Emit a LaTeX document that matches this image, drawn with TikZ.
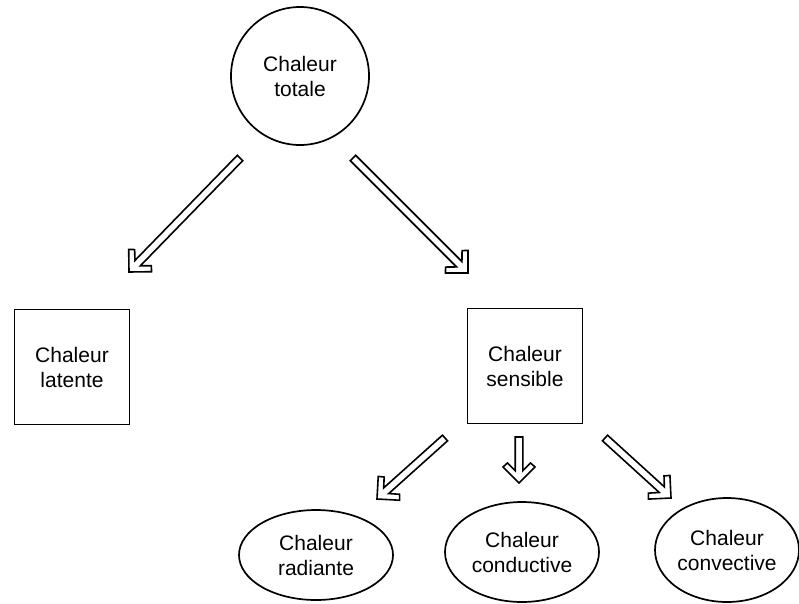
\documentclass[tikz,border=0pt]{standalone}
\usepackage{fontspec}
\setmainfont{Liberation Sans}
\usetikzlibrary{calc,shapes.geometric}
\tikzset{
  lbl/.style={align=center, font=\fontsize{21}{25}\selectfont, inner sep=0pt},
  circ/.style={lbl, draw, circle, minimum size=138pt, line width=1.7pt},
  sq/.style={lbl, draw, rectangle, minimum width=115pt, minimum height=115pt, line width=1.7pt},
  ell/.style={lbl, draw, ellipse, line width=1.7pt},
  harrow/.style={line width=1.6pt, line join=miter, to path={
    -- ($(\tikztostart)!3.8pt!90:(\tikztotarget)$)
    -- ($(\tikztotarget)!12.4pt!(\tikztostart)!3.8pt!-90:(\tikztostart)$)
    -- ($(\tikztotarget)!20pt!(\tikztostart)!11.6pt!-90:(\tikztostart)$)
    -- ($(\tikztotarget)!16pt!(\tikztostart)!16pt!-90:(\tikztostart)$)
    -- (\tikztotarget)
    -- ($(\tikztotarget)!16pt!(\tikztostart)!16pt!90:(\tikztostart)$)
    -- ($(\tikztotarget)!20pt!(\tikztostart)!11.6pt!90:(\tikztostart)$)
    -- ($(\tikztotarget)!12.4pt!(\tikztostart)!3.8pt!90:(\tikztostart)$)
    -- ($(\tikztostart)!3.8pt!-90:(\tikztotarget)$)
    -- cycle}}
}
\begin{document}
\begin{tikzpicture}[x=1pt,y=-1pt]
\useasboundingbox (0,0) rectangle (799,603);
\node[circ] (total) at (300,76) {Chaleur\\totale};
\node[sq] (latente) at (72,367) {Chaleur\\latente};
\node[sq] (sensible) at (525,366) {Chaleur\\sensible};
\node[ell, minimum width=154pt, minimum height=90pt] (radiante) at (316,555) {Chaleur\\radiante};
\node[ell, minimum width=154pt, minimum height=100pt] (conductive) at (522,552) {Chaleur\\conductive};
\node[ell, minimum width=144pt, minimum height=104pt] (convective) at (727,550) {Chaleur\\convective};
\coordinate (t1) at (240,158); \coordinate (h1) at (129,272);
\coordinate (t2) at (353,158); \coordinate (h2) at (468,273);
\coordinate (t3) at (445,438); \coordinate (h3) at (377,499);
\coordinate (t4) at (519,437); \coordinate (h4) at (519,483);
\coordinate (t5) at (605,438); \coordinate (h5) at (671,498);
\draw[harrow] (t1) to (h1);
\draw[harrow] (t2) to (h2);
\draw[harrow] (t3) to (h3);
\draw[harrow] (t4) to (h4);
\draw[harrow] (t5) to (h5);
\end{tikzpicture}
\end{document}
